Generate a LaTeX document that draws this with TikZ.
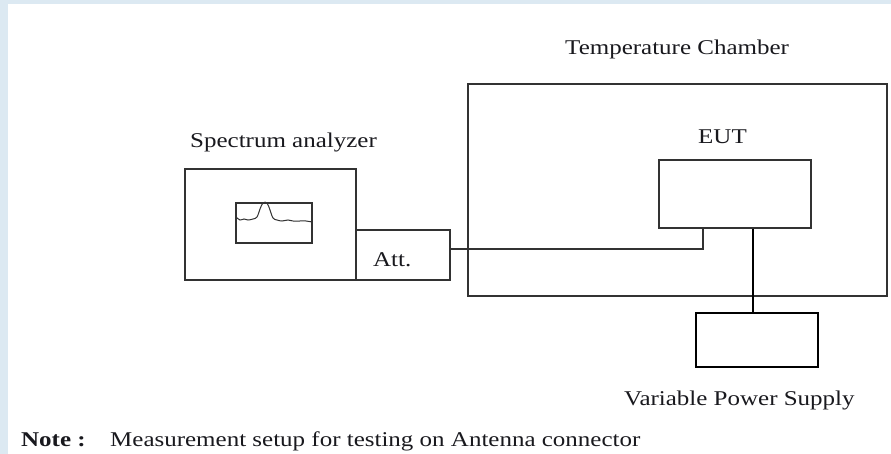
\documentclass[tikz,border=0pt]{standalone}
\usepackage{fontspec}
\setmainfont[FakeStretch=1.19]{Liberation Serif}
\begin{document}
\begin{tikzpicture}[x={(1pt,0)},y={(0,-1pt)},
  box/.style={draw=boxgray,line width=1.1pt,rectangle,inner sep=0pt},
  thickbox/.style={draw=black,line width=1.9pt,rectangle,inner sep=0pt},
  lbl/.style={anchor=base west,inner sep=0pt,font=\fontsize{21}{25}\selectfont,text=txt},
  wire/.style={draw=boxgray,line width=1.1pt},
  pwire/.style={draw=black,line width=1.8pt}]
\definecolor{boxgray}{RGB}{50,50,50}
\definecolor{txt}{RGB}{25,25,30}
\definecolor{bgblue}{RGB}{220,233,242}
\useasboundingbox (0,0) rectangle (891,454);
\fill[white] (0,0) rectangle (891,454);
\fill[bgblue] (0,0) rectangle (8,454);
\fill[bgblue] (0,0) rectangle (891,4);
% boxes
\node[box,minimum width=171pt,minimum height=111pt] (sa) at (270.5,224.5) {};
\node[box,minimum width=76pt,minimum height=40pt] (screen) at (274,223) {};
\node[box,minimum width=94pt,minimum height=50pt] (att) at (403,255) {};
\node[box,minimum width=419pt,minimum height=212pt] (chamber) at (677.5,190) {};
\node[box,minimum width=152pt,minimum height=68pt] (eut) at (735,194) {};
\node[thickbox,minimum width=122pt,minimum height=54pt] (ps) at (757,340) {};
% trace
\draw[boxgray,line width=1pt] plot[smooth,tension=0.6] coordinates {(236,217) (240,220) (244,219) (248,220) (253,219) (257,217) (260,209) (263,203) (267,203) (270,210) (273,218) (277,220) (282,221) (288,220) (293,221) (300,221) (306,221) (312,222)};
% connectors
\coordinate (j) at (703,249);
\coordinate (p) at (753,0);
\draw[wire] (att.east|-j) -- (j) -- (j|-eut.south);
\draw[pwire] (eut.south-|p) -- (ps.north-|p);
% labels
\node[lbl] (tcl) at (565,55) {Temperature Chamber};
\node[lbl] (sal) at (190,148) {Spectrum analyzer};
\node[lbl] (eutl) at (698,144) {EUT};
\node[lbl] (attl) at (373,267) {Att.};
\node[lbl] (psl) at (624,405) {Variable Power Supply};
\node[lbl,font=\fontsize{21}{25}\selectfont\bfseries] (note) at (21,446) {Note :};
\node[lbl] (notet) at (110,446) {Measurement setup for testing on Antenna connector};
\end{tikzpicture}
\end{document}
